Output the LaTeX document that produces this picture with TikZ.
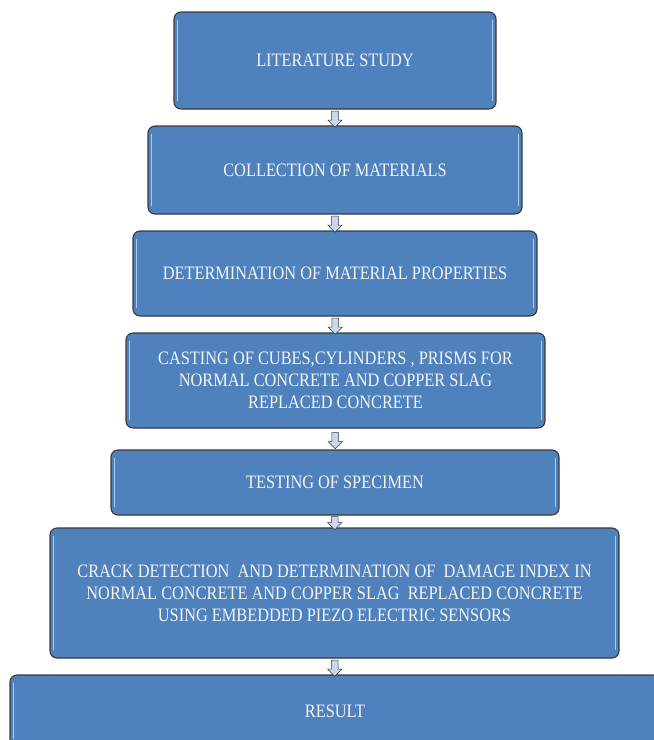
\documentclass[tikz,border=0pt]{standalone}
\usepackage{fontspec}
\setmainfont{Liberation Serif}[FakeStretch=0.86]
\usepackage{tikz}
\usetikzlibrary{arrows.meta,shapes.arrows}

\definecolor{boxblue}{HTML}{4F81BD}
\definecolor{boxedge}{HTML}{3A3A3A}
\definecolor{glintblue}{HTML}{A9CCEE}
\definecolor{arrowfill}{HTML}{C9D8EC}
\definecolor{textwhite}{HTML}{F2F5FA}

\begin{document}
\begin{tikzpicture}[x=1pt, y=-1pt]
    \tikzstyle{step_box} = [draw=boxedge, line width=1.1pt, fill=boxblue, rounded corners=7pt,
        text=textwhite, align=center, font=\fontsize{19}{22}\selectfont, inner sep=0pt]
    \tikzstyle{glint} = [draw=glintblue, line width=1.6pt, line cap=round]
    \tikzstyle{flow_arrow} = [single arrow, shape border rotate=270, draw=boxedge, line width=0.6pt,
        fill=arrowfill, minimum width=14pt, single arrow head extend=2.5pt, inner sep=2pt,
        minimum height=16pt]
    \useasboundingbox (0,0) rectangle (654,740);

    \node[step_box, minimum width=322pt, minimum height=97pt] (lit) at (335,60.5) {LITERATURE STUDY};
    \node[step_box, minimum width=374pt, minimum height=88pt] (coll) at (335,170) {COLLECTION OF MATERIALS};
    \node[step_box, minimum width=404pt, minimum height=85pt] (prop) at (335,273.5) {DETERMINATION OF MATERIAL PROPERTIES};
    \node[step_box, minimum width=419pt, minimum height=95pt] (cast) at (335.5,380.5)
        {CASTING OF CUBES,CYLINDERS , PRISMS FOR\\NORMAL CONCRETE AND COPPER SLAG\\REPLACED CONCRETE};
    \node[step_box, minimum width=448pt, minimum height=65pt] (test) at (335,482.5) {TESTING OF SPECIMEN};
    \node[step_box, minimum width=569pt, minimum height=130pt] (crack) at (334.5,593)
        {CRACK DETECTION \ AND DETERMINATION OF \ DAMAGE INDEX IN\\NORMAL CONCRETE AND COPPER SLAG \ REPLACED CONCRETE\\USING EMBEDDED PIEZO ELECTRIC SENSORS};
    \node[step_box, minimum width=650pt, minimum height=72pt] (res) at (335,711) {RESULT};

    % light strips along the side edges
    \foreach \b in {lit,coll,prop,cast,test,crack,res} {
        \draw[glint] ([xshift=4pt,yshift=-9pt]\b.north west) -- ([xshift=4pt,yshift=9pt]\b.south west);
        \draw[glint] ([xshift=-4pt,yshift=-9pt]\b.north east) -- ([xshift=-4pt,yshift=9pt]\b.south east);
    }

    \path (lit.south) -- (coll.north) node[midway, flow_arrow] (a1) {};
    \path (coll.south) -- (prop.north) node[midway, flow_arrow] (a2) {};
    \path (prop.south) -- (cast.north) node[midway, flow_arrow] (a3) {};
    \path (cast.south) -- (test.north) node[midway, flow_arrow] (a4) {};
    \path (test.south) -- (crack.north) node[midway, flow_arrow, minimum height=13pt] (a5) {};
    \path (crack.south) -- (res.north) node[midway, flow_arrow] (a6) {};
\end{tikzpicture}
\end{document}
